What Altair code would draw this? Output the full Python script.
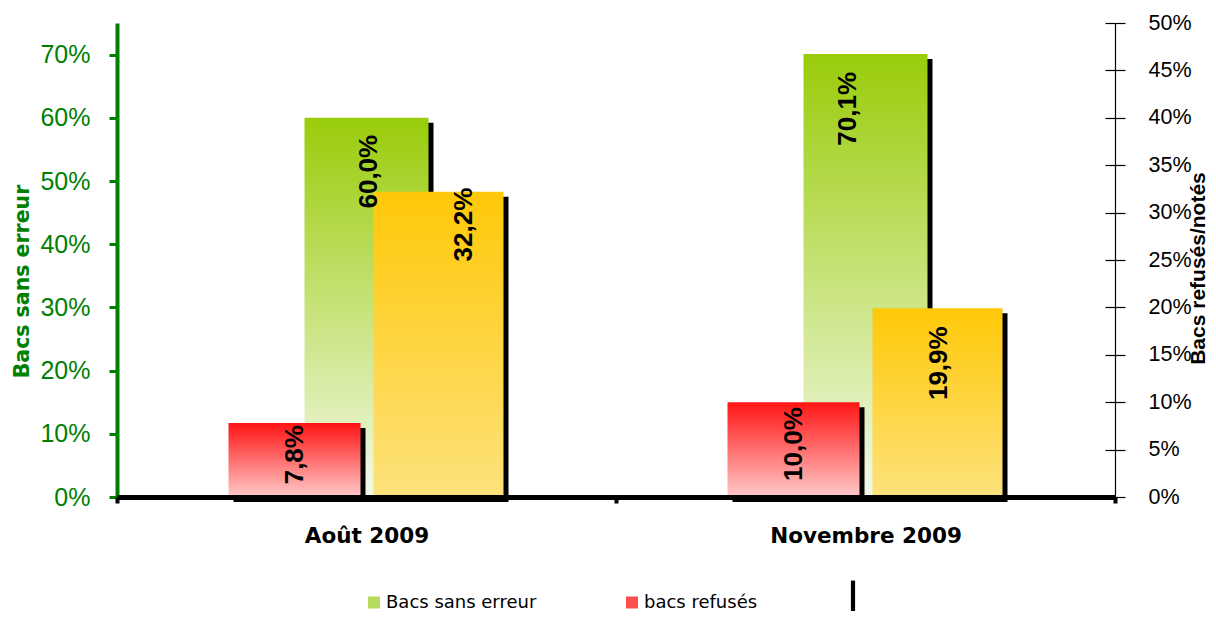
import altair as alt
import pandas as pd

# ---- data ----
categories = ["Août 2009", "Novembre 2009"]
sans_erreur = [0.600, 0.701]
refuses = [0.078, 0.100]
notes = [0.322, 0.199]
left_ticks = [0.0, 0.1, 0.2, 0.3, 0.4, 0.5, 0.6, 0.7]
right_ticks = [0.0, 0.05, 0.10, 0.15, 0.20, 0.25, 0.30, 0.35, 0.40, 0.45, 0.50]
series_names = ["Bacs sans erreur", "bacs refusés", "notés"]

W, H = 998, 474
GREEN = "#008000"

df = pd.DataFrame({"cat": categories, "sans": sans_erreur, "ref": refuses, "notes": notes})
legend_df = pd.DataFrame({"serie": series_names, "v": [0.0, 0.0, 0.0]})


def grad(top, bottom):
    return alt.Gradient(
        gradient="linear",
        stops=[alt.GradientStop(offset=0, color=top), alt.GradientStop(offset=1, color=bottom)],
        x1=0, x2=0, y1=0, y2=1,
    )


xenc = alt.X(
    "cat:N", sort=categories, title=None,
    scale=alt.Scale(paddingInner=0, paddingOuter=0),
    axis=alt.Axis(
        orient="bottom", labelAngle=0, domainColor="black", domainWidth=5,
        tickColor="black", tickWidth=4, tickSize=6, tickBand="extent",
        labelFont="DejaVu Sans", labelFontWeight="bold", labelFontSize=21.5,
        labelColor="black", labelPadding=22, labelLimit=0, zindex=1,
    ),
)

left_scale = alt.Scale(domain=[0, 0.75], nice=False)
right_scale = alt.Scale(domain=[0, 0.5], nice=False)

left_axis = alt.Axis(
    orient="left", values=left_ticks, format=".0%", domainColor=GREEN, domainWidth=4,
    tickColor=GREEN, tickWidth=3, tickSize=8, labelColor=GREEN,
    labelFont="Liberation Sans", labelFontSize=25, labelPadding=19, labelFlush=False,
    title="Bacs sans erreur", titleColor=GREEN, titleFont="DejaVu Sans",
    titleFontWeight="bold", titleFontSize=20.5, titleAngle=270, titleX=-95, titleY=258,
    titleAlign="center", titleBaseline="middle",
)
right_axis = alt.Axis(
    orient="right", values=right_ticks, format=".0%", domainColor="black", domainWidth=1.2,
    tickColor="black", tickWidth=1.2, tickSize=10, labelColor="black",
    labelFont="Liberation Sans", labelFontSize=21.5, labelPadding=23, labelFlush=False,
    labelOverlap=False,
    title="Bacs refusés/notés", titleColor="black", titleFont="Liberation Sans",
    titleFontWeight="bold", titleFontSize=21, titleAngle=270, titleX=83, titleY=245,
    titleAlign="center", titleBaseline="middle",
)

base = alt.Chart(df)

GREEN_W, RED_W, ORANGE_W = 124, 132, 130
RED_OFF, ORANGE_OFF = -72, 72

# ---- left group: green bars ----
y_green = alt.Y("sans:Q", scale=left_scale, axis=left_axis)
green_shadow = base.mark_bar(color="black", width=GREEN_W, xOffset=5, yOffset=5).encode(x=xenc, y=y_green)
green_bar = base.mark_bar(color=grad("#99CC0A", "#F3F9E8"), width=GREEN_W).encode(x=xenc, y=y_green)
left_group = alt.layer(green_shadow, green_bar)

# ---- right group: red and orange bars ----
y_ref = alt.Y("ref:Q", scale=right_scale, axis=right_axis)
y_notes = alt.Y("notes:Q", scale=right_scale, axis=right_axis)
red_shadow = base.mark_bar(color="black", width=RED_W, xOffset=RED_OFF + 5, yOffset=5).encode(x=xenc, y=y_ref)
red_bar = base.mark_bar(color=grad("#FF1414", "#FFCACA"), width=RED_W, xOffset=RED_OFF).encode(x=xenc, y=y_ref)
or_shadow = base.mark_bar(color="black", width=ORANGE_W, xOffset=ORANGE_OFF + 5, yOffset=5).encode(x=xenc, y=y_notes)
or_bar = base.mark_bar(color=grad("#FFC808", "#FDE27C"), width=ORANGE_W, xOffset=ORANGE_OFF).encode(x=xenc, y=y_notes)

# label placement tweaks per (field, category): (horizontal shift, shift along text)
label_pos = {
    ("ref", categories[0]): (RED_OFF, -2),
    ("ref", categories[1]): (RED_OFF, -5),
    ("notes", categories[0]): (ORANGE_OFF + 25, 4),
    ("notes", categories[1]): (ORANGE_OFF + 1, -18),
    ("sans", categories[0]): (2, -17),
    ("sans", categories[1]): (-18, -18),
}


def label_layer(field, cat, yscale, yaxis):
    xo, d = label_pos[(field, cat)]
    return (
        base.transform_filter(alt.datum.cat == cat)
        .transform_calculate(lbl=f"replace(format(datum['{field}'], '.1%'), '.', ',')")
        .mark_text(angle=270, align="right", baseline="middle", font="Liberation Sans",
                   fontWeight="bold", fontSize=26, color="black", xOffset=xo, dx=d)
        .encode(x=xenc, y=alt.Y(f"{field}:Q", scale=yscale, axis=yaxis), text="lbl:N")
    )


right_layers = [red_shadow, red_bar, or_shadow, or_bar]
for f in ["ref", "notes"]:
    for c in categories:
        right_layers.append(label_layer(f, c, right_scale, right_axis))
right_group = alt.layer(*right_layers)

green_text_group = alt.layer(*[label_layer("sans", c, left_scale, None) for c in categories])

# ---- legend + inner right-axis ticks (no visible marks) ----
leg = alt.Legend(
    orient="none", legendX=248, legendY=566, direction="horizontal", title=None,
    symbolSize=144, symbolStrokeWidth=0, symbolOpacity=1,
    labelFont="DejaVu Sans", labelFontSize=18, labelColor="black", labelOffset=3,
    columnPadding=86, padding=0, labelLimit=0,
    labelExpr="datum.label == 'notés' ? '' : datum.label",
)
legend_layer = (
    alt.Chart(legend_df)
    .transform_filter("false")
    .mark_point(filled=True, opacity=1)
    .encode(
        y=alt.Y("v:Q", scale=right_scale,
                axis=alt.Axis(orient="right", offset=-10, values=right_ticks, tickSize=10,
                              tickWidth=1.2, tickColor="black", domain=False, labels=False,
                              title=None)),
        color=alt.Color(
            "serie:N",
            scale=alt.Scale(domain=series_names, range=["#B5DB5C", "#FF5050", "#000000"]),
            legend=leg,
        ),
        shape=alt.Shape(
            "serie:N",
            scale=alt.Scale(domain=series_names,
                            range=["square", "square", "M-0.35,-2.9H0.35V3H-0.35Z"]),
            legend=leg,
        ),
    )
)

chart = (
    alt.layer(left_group, right_group, green_text_group, legend_layer)
    .resolve_scale(y="independent")
    .properties(
        width=W, height=H,
        autosize=alt.AutoSizeParams(type="none"),
        padding={"left": 109, "top": 15, "right": 93, "bottom": 114},
    )
    .configure_view(stroke=None)
    .configure_axis(grid=False)
)

chart.save("out.html", embed_options={"renderer": "svg", "actions": False})
